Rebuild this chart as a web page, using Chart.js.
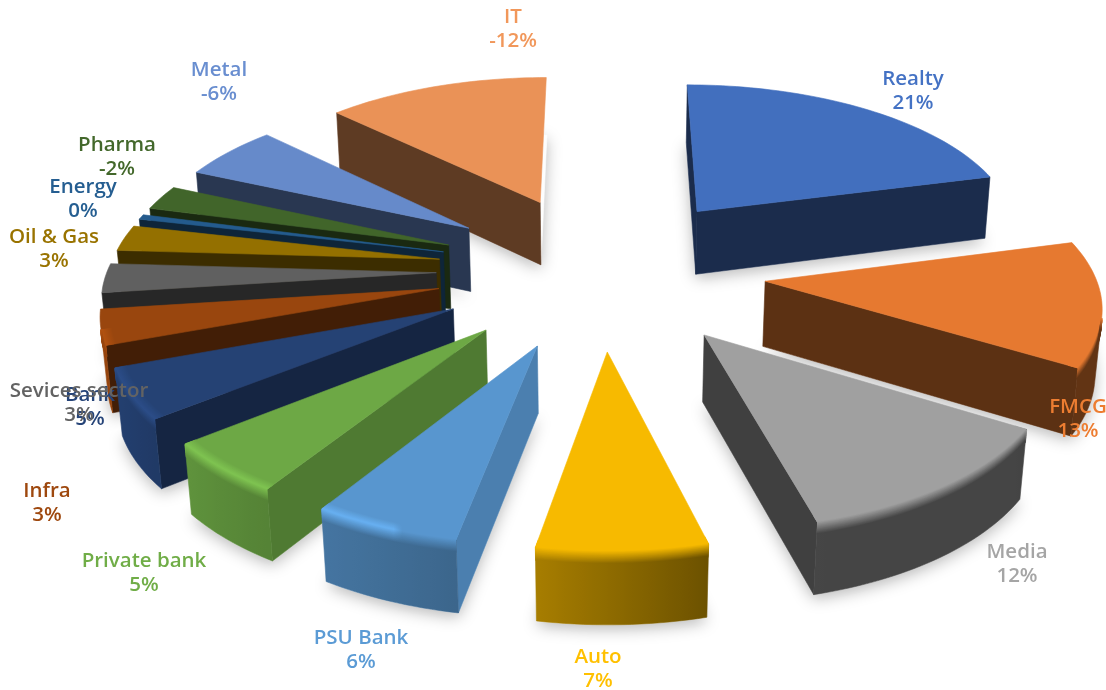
<!DOCTYPE html>
<html>
<head>
<meta charset="utf-8">
<title>Sector returns</title>
<script src="https://cdn.jsdelivr.net/npm/chart.js@4"></script>
<style>
  html, body { margin: 0; background: #fff; }
  canvas { display: block; filter: blur(0.4px); }
</style>
</head>
<body>
<canvas id="pieChart" width="1106" height="690"></canvas>
<script>
const categories = ['Realty', 'FMCG', 'Media', 'Auto', 'PSU Bank', 'Private bank', 'Bank', 'Infra', 'Sevices sector', 'Oil & Gas', 'Energy', 'Pharma', 'Metal', 'IT'];
const values = [20.5, 12.5, 12, 6.85, 5.95, 5.2, 5, 3.49, 2.9, 2.6, 0.49, -2.49, -5.51, -12.49];
const colors = ['#4472C4', '#ED7D31', '#A5A5A5', '#FFC000', '#5B9BD5', '#70AD47', '#264478', '#9E480E', '#636363', '#997300', '#255E91', '#43682B', '#698ED0', '#F1975A'];

// where each label sits on the page (centre of the name line)
const labelAt = [[913, 79], [1078, 407], [1017, 552], [598, 657], [361, 638], [144, 561], [90, 395], [47, 491], [79, 391], [54, 237], [83, 187], [117, 145], [219, 70], [513, 17]];

// camera for the tilted pie, 1 unit = pie radius
const cam = { cx: 601, cy: 270, f: 2467, dist: 7.5, tilt: 28 * Math.PI / 180 };
const explode = 0.5;
const thickness = 0.226;
const startAngle = 0;

const sinT = Math.sin(cam.tilt);
const cosT = Math.cos(cam.tilt);

function project(x, y, z) {
  const yc = y * sinT + z * cosT;
  const zc = cam.dist + y * cosT - z * sinT;
  const s = cam.f / zc;
  return [cam.cx + x * s, cam.cy - yc * s];
}

function shade(hex, k) {
  const n = parseInt(hex.slice(1), 16);
  const c = [n >> 16, (n >> 8) & 255, n & 255].map(v => Math.min(255, Math.round(v * k)));
  return `rgb(${c[0]},${c[1]},${c[2]})`;
}

function lerpStops(stops, n) {
  for (let i = 1; i < stops.length; i++) {
    if (n <= stops[i][0]) {
      const t = (n - stops[i - 1][0]) / (stops[i][0] - stops[i - 1][0]);
      return stops[i - 1][1] + t * (stops[i][1] - stops[i - 1][1]);
    }
  }
  return stops[stops.length - 1][1];
}

// brightness of a wall by the way it faces, degrees clockwise from the back
const radialLight = [[0, 0.82], [101, 0.82], [123, 0.7], [141, 0.55], [164, 0.39], [360, 0.39]];
const outerLight = [[0, 0.4], [165, 0.42], [191, 0.66], [213, 0.76], [231, 0.85], [250, 0.95], [270, 1], [360, 1]];

function facing(angle) {
  return ((angle * 180 / Math.PI + 90) % 360 + 360) % 360;
}

function poly(ctx, pts, fill) {
  ctx.beginPath();
  pts.forEach((p, i) => (i ? ctx.lineTo(p[0], p[1]) : ctx.moveTo(p[0], p[1])));
  ctx.closePath();
  ctx.fillStyle = fill;
  ctx.fill();
  ctx.strokeStyle = fill;
  ctx.lineWidth = 0.6;
  ctx.stroke();
}

function sliceGeom(arc) {
  const mid = (arc.startAngle + arc.endAngle) / 2;
  const ox = explode * Math.cos(mid);
  const oy = -explode * Math.sin(mid);
  const at = (a, r, z) => project(ox + r * Math.cos(a), oy - r * Math.sin(a), z);
  return { mid, ox, oy, at, a0: arc.startAngle, a1: arc.endAngle };
}

function outline(g, z) {
  const pts = [g.at(g.a0, 0, z)];
  const steps = Math.max(2, Math.ceil((g.a1 - g.a0) / 0.025));
  for (let i = 0; i <= steps; i++) pts.push(g.at(g.a0 + (g.a1 - g.a0) * i / steps, 1, z));
  return pts;
}

// how much a wall with plan normal (nx, ny) at (px, py) faces the camera
function sees(nx, ny, px, py) {
  return nx * -px + ny * (-py - cam.dist * cosT);
}

function drawRadialWall(ctx, g, a, side, base) {
  const n = a + side * Math.PI / 2;
  const nx = Math.cos(n);
  const ny = -Math.sin(n);
  const mx = g.ox + 0.5 * Math.cos(a);
  const my = g.oy - 0.5 * Math.sin(a);
  // walls seen nearly edge on stay hidden
  if (sees(nx, ny, mx, my) < 0.25) return;
  const fill = shade(base, lerpStops(radialLight, facing(n)));
  poly(ctx, [g.at(a, 0, 0), g.at(a, 1, 0), g.at(a, 1, -thickness), g.at(a, 0, -thickness)], fill);
}

function drawOuterWall(ctx, g, base) {
  const steps = Math.max(2, Math.ceil((g.a1 - g.a0) / 0.025));
  const angles = [];
  for (let i = 0; i <= steps; i++) {
    const a = g.a0 + (g.a1 - g.a0) * i / steps;
    const nx = Math.cos(a);
    const ny = -Math.sin(a);
    if (sees(nx, ny, g.ox + nx, g.oy + ny) > 0) angles.push(a);
  }
  if (angles.length < 2) return;

  // left to right light across the curved wall
  const samples = angles.map(a => ({ x: g.at(a, 1, 0)[0], k: lerpStops(outerLight, facing(a)) })).sort((p, q) => p.x - q.x);
  const x0 = samples[0].x;
  const x1 = samples[samples.length - 1].x;
  const sideGrad = (ctx, mixTo, t) => {
    const grad = ctx.createLinearGradient(x0, 0, Math.max(x1, x0 + 1), 0);
    samples.forEach(s => grad.addColorStop((s.x - x0) / Math.max(x1 - x0, 1), shade(base, mixTo(s.k, t))));
    return grad;
  };

  const top = angles.map(a => g.at(a, 1, 0));
  const bottom = angles.map(a => g.at(a, 1, -thickness)).reverse();
  poly(ctx, top.concat(bottom), sideGrad(ctx, k => k, 0));

  // rounded rim: fades from the top face over the edge and on to the wall
  const levels = 26;
  ctx.lineWidth = 2;
  ctx.lineJoin = 'round';
  for (let j = 0; j <= levels; j++) {
    const u = j / levels;
    const r = u < 0.45 ? 0.97 + 0.03 * u / 0.45 : 1;
    const z = u < 0.45 ? 0 : -0.038 * (u - 0.45) / 0.55;
    ctx.strokeStyle = sideGrad(ctx, (k, t) => {
      const peak = k > 0.7 ? 1.13 : 0.97;
      return t < 0.45 ? 0.97 + (peak - 0.97) * t / 0.45 : peak + (k - peak) * (t - 0.45) / 0.55;
    }, u);
    ctx.beginPath();
    angles.forEach((a, i) => {
      const p = g.at(a, r, z);
      if (i) ctx.lineTo(p[0], p[1]); else ctx.moveTo(p[0], p[1]);
    });
    ctx.stroke();
  }
}

const pie3d = {
  id: 'pie3d',
  beforeDatasetDraw(chart, args) {
    const ctx = chart.ctx;
    const arcs = chart.getDatasetMeta(args.index).data;
    const items = arcs.map((arc, i) => ({ i, g: sliceGeom(arc) }));

    // soft floor shadow first so that it only lands on the page
    ctx.save();
    items.forEach(({ g }) => {
      ctx.shadowColor = 'rgba(0,0,0,0.28)';
      ctx.shadowBlur = 16;
      ctx.shadowOffsetY = 4;
      poly(ctx, outline(g, -thickness), '#ffffff');
    });
    ctx.restore();

    // far slices first
    items.sort((p, q) => (q.g.oy + 0.5 * -Math.sin(q.g.mid)) - (p.g.oy + 0.5 * -Math.sin(p.g.mid)));
    items.forEach(({ i, g }) => {
      const base = colors[i];
      drawRadialWall(ctx, g, g.a0, -1, base);
      drawRadialWall(ctx, g, g.a1, 1, base);
      poly(ctx, outline(g, 0), shade(base, 0.97));
      drawOuterWall(ctx, g, base);
    });
    return false;
  },
  afterDatasetsDraw(chart) {
    const ctx = chart.ctx;
    ctx.save();
    ctx.textAlign = 'center';
    ctx.textBaseline = 'middle';
    ctx.font = '600 20.5px "Open Sans"';
    categories.forEach((name, i) => {
      const [x, y] = labelAt[i];
      ctx.fillStyle = colors[i];
      ctx.fillText(name, x, y);
      ctx.fillText(Math.round(values[i]) + '%', x, y + 24.5);
    });
    ctx.restore();
  },
};

new Chart(document.getElementById('pieChart'), {
  type: 'pie',
  data: {
    labels: categories,
    datasets: [{
      data: values.map(Math.abs),
      backgroundColor: colors,
      borderWidth: 0,
    }],
  },
  options: {
    responsive: false,
    animation: false,
    rotation: startAngle,
    plugins: { legend: { display: false }, tooltip: { enabled: false } },
  },
  plugins: [pie3d],
});
</script>
</body>
</html>
